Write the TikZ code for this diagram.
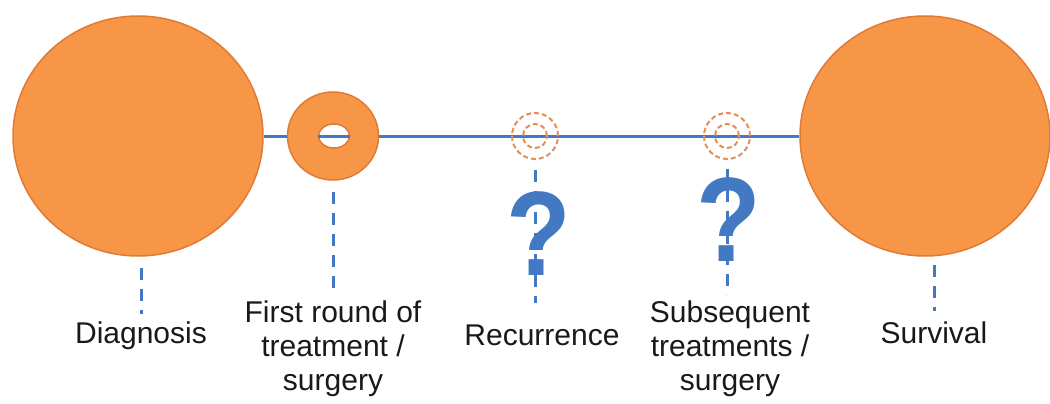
\documentclass[tikz,border=0pt]{standalone}
\usepackage{fontspec}
\setmainfont{Liberation Sans}
\usetikzlibrary{shapes}
\definecolor{evfill}{HTML}{F79646}
\definecolor{evedge}{HTML}{E07A36}
\definecolor{tlblue}{HTML}{4279C2}

\begin{document}
\begin{tikzpicture}[x=1pt,y=-1pt,
  bigev/.style={ellipse,fill=evfill,draw=evedge,line width=1.5pt,minimum width=250pt,minimum height=240pt,inner sep=0pt},
  smallev/.style={ellipse,fill=evfill,draw=evedge,line width=1.5pt,minimum width=91pt,minimum height=88pt,inner sep=0pt},
  hole/.style={ellipse,fill=white,draw=evedge,line width=1.5pt,minimum width=31pt,minimum height=24pt,inner sep=0pt},
  maybe/.style={circle,draw=evedge!85,dash pattern=on 5pt off 3pt,line width=2pt,inner sep=0pt},
  timeline/.style={draw=tlblue,line width=3pt},
  drop/.style={draw=tlblue,line width=3pt,dash pattern=on 12pt off 9pt},
  lbl/.style={align=center,font=\fontsize{30}{34}\selectfont,text=black!90,inner sep=0pt},
  qmark/.style={text=tlblue,font=\fontsize{120}{120}\selectfont\bfseries,inner sep=0pt,xscale=0.88}]

  \useasboundingbox (0,0) rectangle (1050,404);

  % events
  \node[bigev]   (diag)  at (138,136) {};
  \node[bigev]   (surv)  at (925,136) {};
  \node[smallev] (first) at (333,136) {};
  \node[hole]    (firsthole) at (334,136) {};

  % time line
  \path[timeline] (diag.east) -- (first.west)
                  (firsthole.west) -- (firsthole.east)
                  (first.east) -- (surv.west);

  % unknown events
  \node[maybe,minimum size=46pt] (rec)  at (535,136) {};
  \node[maybe,minimum size=24pt] (recin) at (535,136) {};
  \node[maybe,minimum size=46pt] (subs) at (727,136) {};
  \node[maybe,minimum size=24pt] (subsin) at (727,136) {};
  \node[qmark] (recq)  at (539,234) {?};
  \node[qmark] (subsq) at (729,220) {?};

  % labels
  \node[lbl,anchor=base]  (diaglab)  at (141,343) {Diagnosis};
  \node[lbl,anchor=north] (firstlab) at (333,301) {First round of\\treatment /\\surgery};
  \node[lbl,anchor=base]  (reclab)   at (542,345) {Recurrence};
  \node[lbl,anchor=north] (subslab)  at (730,301) {Subsequent\\treatments /\\surgery};
  \node[lbl,anchor=base]  (survlab)  at (934,343) {Survival};

  \path[drop,shorten <=11pt,shorten >=7pt] (diaglab.north |- diag.south) -- (diaglab.north);
  \path[drop,shorten <=11pt,shorten >=6pt] (first.south) -- (first.south |- firstlab.north);
  \path[drop,shorten <=10pt,shorten >=21pt] (rec.south) -- (rec.south |- reclab.north);
  \path[drop,shorten <=9pt,shorten >=6pt] (subs.south) -- (subs.south |- subslab.north);
  \path[drop,shorten <=8pt,shorten >=10pt] (survlab.north |- surv.south) -- (survlab.north);

\end{tikzpicture}
\end{document}
